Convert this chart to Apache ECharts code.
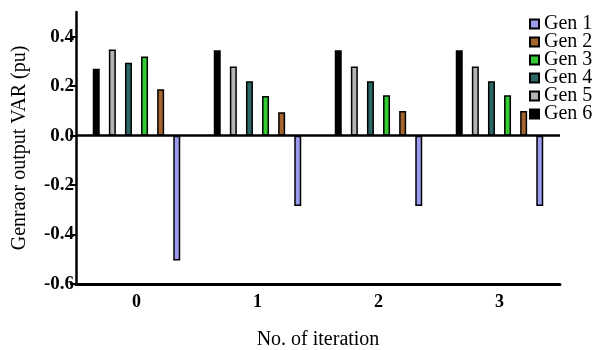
<!DOCTYPE html>
<html>
<head>
<meta charset="utf-8">
<script src="https://cdn.jsdelivr.net/npm/echarts@6/dist/echarts.min.js"></script>
<style>
  html, body { margin: 0; padding: 0; background: #fff; }
  #chart { width: 594px; height: 350px; }
</style>
</head>
<body>
<div id="chart"></div>
<script>
const iterations = ['0', '1', '2', '3']
const yTicks = [-0.6, -0.4, -0.2, 0, 0.2, 0.4]

// values, one array per generator
const gen1 = [-0.505, -0.285, -0.285, -0.285]
const gen2 = [0.188, 0.095, 0.1, 0.1]
const gen3 = [0.32, 0.16, 0.163, 0.163]
const gen4 = [0.295, 0.22, 0.22, 0.22]
const gen5 = [0.348, 0.28, 0.28, 0.28]
const gen6 = [0.27, 0.345, 0.345, 0.345]

const names = ['Gen 1', 'Gen 2', 'Gen 3', 'Gen 4', 'Gen 5', 'Gen 6']
const colors = ['#9b9bf0', '#a5652f', '#33cc33', '#2d6666', '#b3b3b3', '#000000']
const values = [gen1, gen2, gen3, gen4, gen5, gen6]

const font = '"Liberation Serif", "Times New Roman", serif'

const chart = echarts.init(document.getElementById('chart'))

// bars are drawn Gen 6 first, Gen 1 last
const series = []
for (let i = 5; i >= 0; i--) {
  series.push({
    name: names[i],
    type: 'bar',
    data: values[i],
    barWidth: 7,
    barGap: '130%',
    itemStyle: {
      color: colors[i],
      borderColor: '#000',
      borderWidth: 1.5
    }
  })
}
// zero line across the plot
series[0].markLine = {
  silent: true,
  symbol: ['none', 'none'],
  label: { show: false },
  lineStyle: { color: '#000', width: 2.5, type: 'solid' },
  data: [{ yAxis: 0 }]
}

chart.setOption({
  animation: false,
  textStyle: { fontFamily: font },
  grid: { left: 76, right: 34, top: 12, bottom: 66, outerBoundsMode: 'none', containLabel: false },
  legend: {
    data: names,
    orient: 'vertical',
    left: 524,
    top: 9,
    itemWidth: 9,
    itemHeight: 9,
    itemGap: -2,
    icon: 'rect',
    textStyle: { fontFamily: font, fontSize: 20, color: '#000' }
  },
  xAxis: {
    type: 'category',
    data: iterations,
    name: 'No. of iteration',
    nameLocation: 'middle',
    nameGap: 46,
    nameTextStyle: { fontFamily: font, fontSize: 20, color: '#000' },
    axisLine: { onZero: false, lineStyle: { color: '#000', width: 3 } },
    axisTick: { alignWithLabel: true, length: 4, lineStyle: { color: '#000', width: 2 } },
    axisLabel: { fontFamily: font, fontSize: 18, fontWeight: 'bold', color: '#000', margin: 9 },
    splitLine: { show: false }
  },
  yAxis: {
    type: 'value',
    min: -0.6,
    max: 0.5,
    interval: 0.2,
    name: 'Genraor output VAR (pu)',
    nameLocation: 'middle',
    nameGap: 46,
    nameTextStyle: { fontFamily: font, fontSize: 20, color: '#000' },
    axisLine: { show: true, lineStyle: { color: '#000', width: 2.5 } },
    axisTick: { show: true, length: 6, customValues: yTicks, lineStyle: { color: '#000', width: 2 } },
    axisLabel: {
      customValues: yTicks,
      fontFamily: font,
      fontSize: 19,
      fontWeight: 'bold',
      color: '#000',
      margin: 2,
      formatter: v => v.toFixed(1)
    },
    splitLine: { show: false }
  },
  series: series
})
</script>
</body>
</html>
